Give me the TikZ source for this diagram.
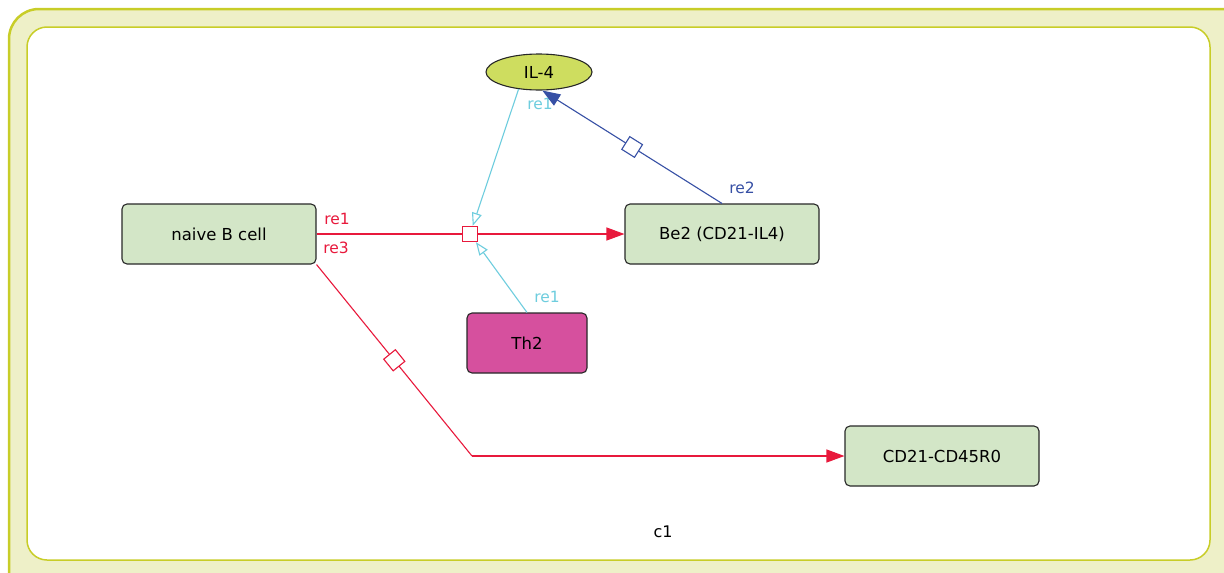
\documentclass[tikz,border=0pt]{standalone}
\usepackage{fontspec}
\setmainfont{DejaVu Sans}
\usetikzlibrary{arrows.meta,shapes.geometric}
\definecolor{compborder}{RGB}{200,205,40}
\definecolor{compfill}{RGB}{238,240,200}
\definecolor{spgreen}{RGB}{211,230,199}
\definecolor{ilfill}{RGB}{206,221,95}
\definecolor{thfill}{RGB}{214,80,158}
\definecolor{rred}{RGB}{232,25,60}
\definecolor{rcyan}{RGB}{110,205,222}
\definecolor{rblue}{RGB}{55,80,165}
\definecolor{nborder}{RGB}{40,40,40}
\tikzset{
  species/.style={draw=nborder, line width=1.1pt, rounded corners=5pt, fill=spgreen,
    minimum width=194pt, minimum height=60pt, inner sep=0pt, font=\fontsize{16.5}{19}\selectfont},
  rlabel/.style={font=\fontsize{15.5}{18}\selectfont, inner sep=1pt},
  conn/.style={line width=1.1pt},
  fillarrow/.style={-{Triangle[length=18pt,width=13pt]}},
  openarrow/.style={-{Triangle[open,length=13pt,width=10pt,fill=white]}},
  procsq/.style={fill=white, line width=1.4pt, minimum size=15pt, inner sep=0pt},
  diamondmark/.style={fill=white, line width=1.1pt, minimum size=15pt, inner sep=0pt, sloped}
}
\begin{document}
\begin{tikzpicture}[x=1pt,y=-1pt]
\useasboundingbox (0,0) rectangle (1224,573);
% compartment
\draw[fill=compfill, draw=compborder, line width=2.5pt, rounded corners=30pt] (9,9) rectangle (1260,610);
\draw[fill=white, draw=compborder, line width=1.5pt, rounded corners=20pt] (27,27) rectangle (1210,560);
\node[font=\fontsize{16}{19}\selectfont] (c1) at (663,532) {c1};
% species
\node[species] (naive) at (219,234) {naive B cell};
\node[species] (be2) at (722,234) {Be2 (CD21-IL4)};
\node[species, fill=thfill, minimum width=120pt] (th2) at (527,343) {Th2};
\node[species] (cd) at (942,456) {CD21-CD45R0};
\node[ellipse, draw=nborder, line width=1.1pt, fill=ilfill, minimum width=106pt, minimum height=36pt, inner sep=0pt, font=\fontsize{16.5}{19}\selectfont] (il4) at (539,72) {IL-4};
% re1
\node[procsq, draw=rred] (p) at (470,234) {};
\draw[conn, rred] (naive.east) -- (p);
\draw[conn, rred, fillarrow] (p) -- (be2.west);
\draw[conn, rcyan, openarrow] (il4.220) -- (p);
\draw[conn, rcyan, openarrow] (th2.north) -- (p);
\node[rlabel, text=rred] (l1) at (337,219) {re1};
\node[rlabel, text=rcyan] (l2) at (540,104) {re1};
\node[rlabel, text=rcyan] (l3) at (547,297) {re1};
% re2
\draw[conn, rblue, fillarrow] (be2.north) -- node[diamondmark, draw=rblue, pos=0.5] (d2) {} (il4.280);
\node[rlabel, text=rblue] (l4) at (742,188) {re2};
% re3
\coordinate (bend) at (472,456);
\draw[conn, rred] (naive.south east) -- node[diamondmark, draw=rred, pos=0.5] (d3) {} (bend);
\draw[conn, rred, fillarrow] (bend) -- (cd.west);
\node[rlabel, text=rred] (l5) at (336,248) {re3};
\end{tikzpicture}
\end{document}
